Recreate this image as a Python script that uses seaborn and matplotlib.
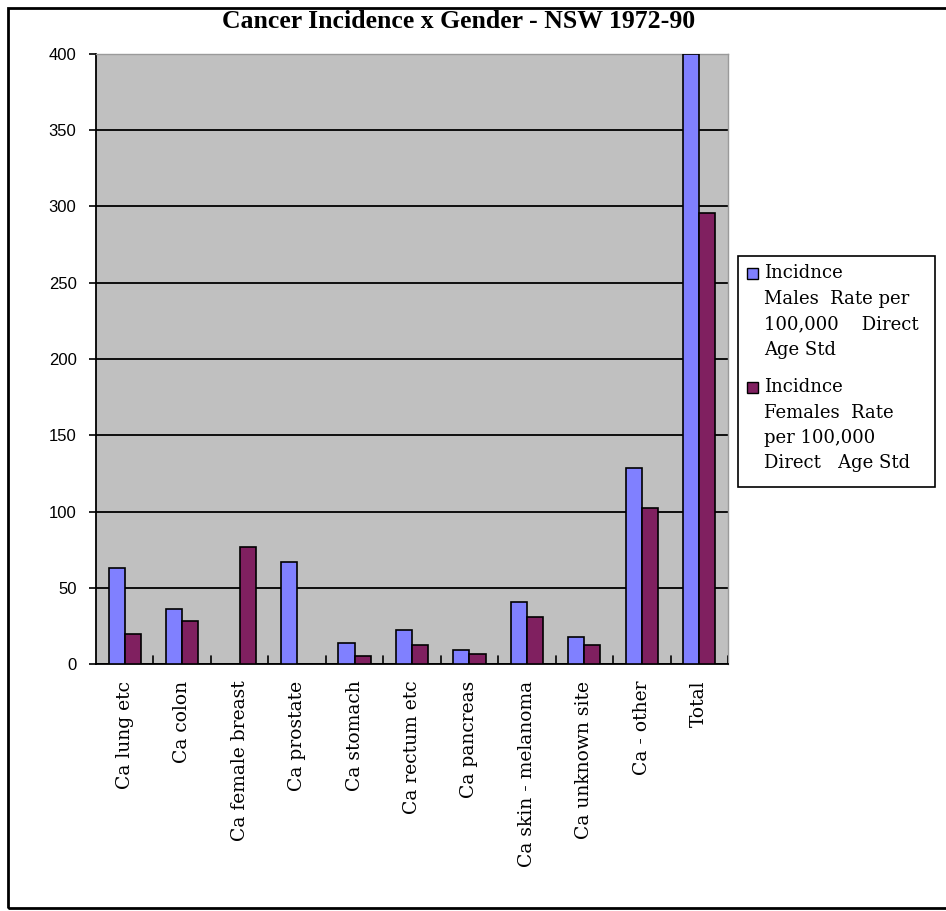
import pandas as pd
import numpy as np
import matplotlib.pyplot as plt
import seaborn as sns
from matplotlib.patches import Rectangle

# chart data
sites = ['Ca lung etc', 'Ca colon', 'Ca female breast', 'Ca prostate',
         'Ca stomach', 'Ca rectum etc', 'Ca pancreas', 'Ca skin - melanoma',
         'Ca unknown site', 'Ca - other', 'Total']
males = [63, 36, 0, 67, 14, 22, 9.5, 40.5, 17.5, 128.5, 400]
females = [19.5, 28, 77, 0, 5, 12.5, 6.5, 31, 12.5, 102, 295.5]

series_names = ['Males', 'Females']
colors = ['#8080FF', '#802060']
# legend text, wrapped as in the original
legend_lines = [
    ['Incidnce', 'Males  Rate per', '100,000    Direct', 'Age Std'],
    ['Incidnce', 'Females  Rate', 'per 100,000', 'Direct   Age Std'],
]

df = pd.DataFrame({
    'site': sites * 2,
    'rate': males + females,
    'series': [series_names[0]] * len(sites) + [series_names[1]] * len(sites),
})

sns.set_style('white')
plt.rcParams['font.family'] = ['DejaVu Serif']
plt.rcParams['text.color'] = 'black'
plt.rcParams['xtick.color'] = 'black'
plt.rcParams['ytick.color'] = 'black'

W, H = 946, 911
fig = plt.figure(figsize=(W / 100, H / 100), dpi=100)
ax = fig.add_axes([96 / W, 1 - 664 / H, (728 - 96) / W, (664 - 54) / H])
ax.set_facecolor('#C0C0C0')

sns.barplot(data=df, x='site', y='rate', hue='series', order=sites,
            hue_order=series_names, palette=colors, saturation=1,
            width=0.56, gap=0, edgecolor='black', linewidth=1.2,
            legend=False, ax=ax, zorder=3)

ax.set_ylim(0, 400)
ax.set_xlim(-0.5, len(sites) - 0.5)
ax.set_yticks(np.arange(0, 401, 50))
ax.yaxis.grid(True, color='black', linewidth=1.3, zorder=1)
ax.set_axisbelow(True)
ax.set_xlabel('')
ax.set_ylabel('')

ax.set_xticks(np.arange(len(sites)))
ax.set_xticklabels(sites, rotation=90, fontsize=13.5, family='DejaVu Serif',
                   color='black')
ax.tick_params(axis='x', length=0, pad=12)
# small separators between categories along the baseline
for b in np.arange(0.5, len(sites), 1):
    ax.plot([b, b], [0, 5], color='black', linewidth=1.2, zorder=4)
ax.tick_params(axis='y', length=5, width=1.2, direction='out', pad=9, left=True)
for t in ax.get_yticklabels():
    t.set_family('Liberation Sans')
    t.set_fontsize(12)
    t.set_color('black')

for side in ['left', 'bottom']:
    ax.spines[side].set_color('black')
    ax.spines[side].set_linewidth(1.3)
for side in ['top', 'right']:
    ax.spines[side].set_color('#9A9A9A')
    ax.spines[side].set_linewidth(1)

# legend box drawn by hand so the swatch sits on the first line
fig.patches.append(Rectangle((738 / W, 1 - 487 / H), (935 - 738) / W, (487 - 256) / H,
                             transform=fig.transFigure, facecolor='white',
                             edgecolor='black', linewidth=1.2))
first_line = [273, 387]
for i, lines in enumerate(legend_lines):
    y0 = first_line[i]
    fig.patches.append(Rectangle((747 / W, 1 - (y0 + 6) / H), 11 / W, 11 / H,
                                 transform=fig.transFigure, facecolor=colors[i],
                                 edgecolor='black', linewidth=1))
    for j, line in enumerate(lines):
        fig.text(764 / W, 1 - (y0 + 25.5 * j) / H, line, ha='left', va='center',
                 fontsize=13, family='DejaVu Serif', color='black')

fig.text(459 / W, 1 - 21 / H, 'Cancer Incidence x Gender - NSW 1972-90',
         ha='center', va='center', fontsize=18.5, fontweight='bold',
         family='Liberation Serif', color='black')

# outer chart border
fig.patches.append(Rectangle((8 / W, 1 - 908 / H), 960 / W, 900 / H,
                             transform=fig.transFigure, fill=False,
                             edgecolor='black', linewidth=2))

fig.savefig('out.png', dpi=100)
